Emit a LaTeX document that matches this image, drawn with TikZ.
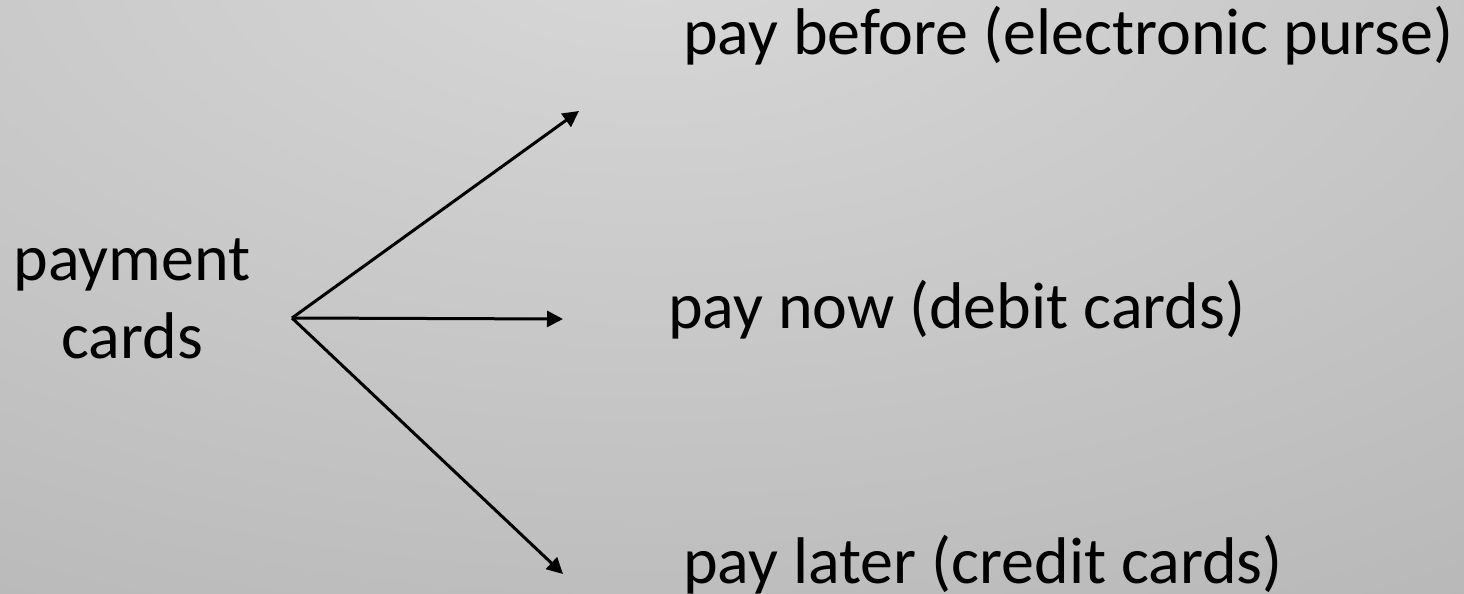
\documentclass[tikz,border=0pt]{standalone}
\usepackage{fontspec}
\setmainfont{Carlito}
\usetikzlibrary{arrows.meta}

% soft grey backdrop: lighter near the top middle, darker towards the corners
\definecolor{bgLight}{HTML}{D8D8D8}
\definecolor{bgDark}{HTML}{989898}
\pgfdeclareradialshading{backdrop}{\pgfpoint{0bp}{0bp}}{%
  color(0bp)=(bgLight); color(50bp)=(bgDark)}

\tikzset{
  label text/.style={inner sep=0pt, font=\fontsize{66}{78}\selectfont, text=black},
  branch/.style={line width=3pt, -{Triangle[length=16pt,width=16pt]}},
}

\begin{document}
\begin{tikzpicture}[x=1pt, y=-1pt]
  \useasboundingbox (0,0) rectangle (1464,594);
  \begin{scope}
    \clip (0,0) rectangle (1464,594);
    \fill[bgDark] (0,0) rectangle (1464,594);
    \fill[shading=backdrop] (650,-60) ellipse [x radius=1500, y radius=790];
  \end{scope}

  % root label (base anchor sits on the last line)
  \node[label text, align=center, anchor=base] (root) at (132,358) {payment\\cards};

  % three kinds of card
  \node[label text, anchor=base west] (before) at (683,55) {pay before (electronic purse)};
  \node[label text, anchor=base west] (now) at (668,328) {pay now (debit cards)};
  \node[label text, anchor=base west] (later) at (683,583) {pay later (credit cards)};

  % fan of arrows
  \coordinate (fork) at (292,318);
  \coordinate (tipBefore) at (579,111);
  \coordinate (tipNow) at (563,319);
  \coordinate (tipLater) at (563,574);

  \draw[branch] (fork) -- (tipBefore);
  \draw[branch] (fork) -- (tipNow);
  \draw[branch] (fork) -- (tipLater);
\end{tikzpicture}
\end{document}
